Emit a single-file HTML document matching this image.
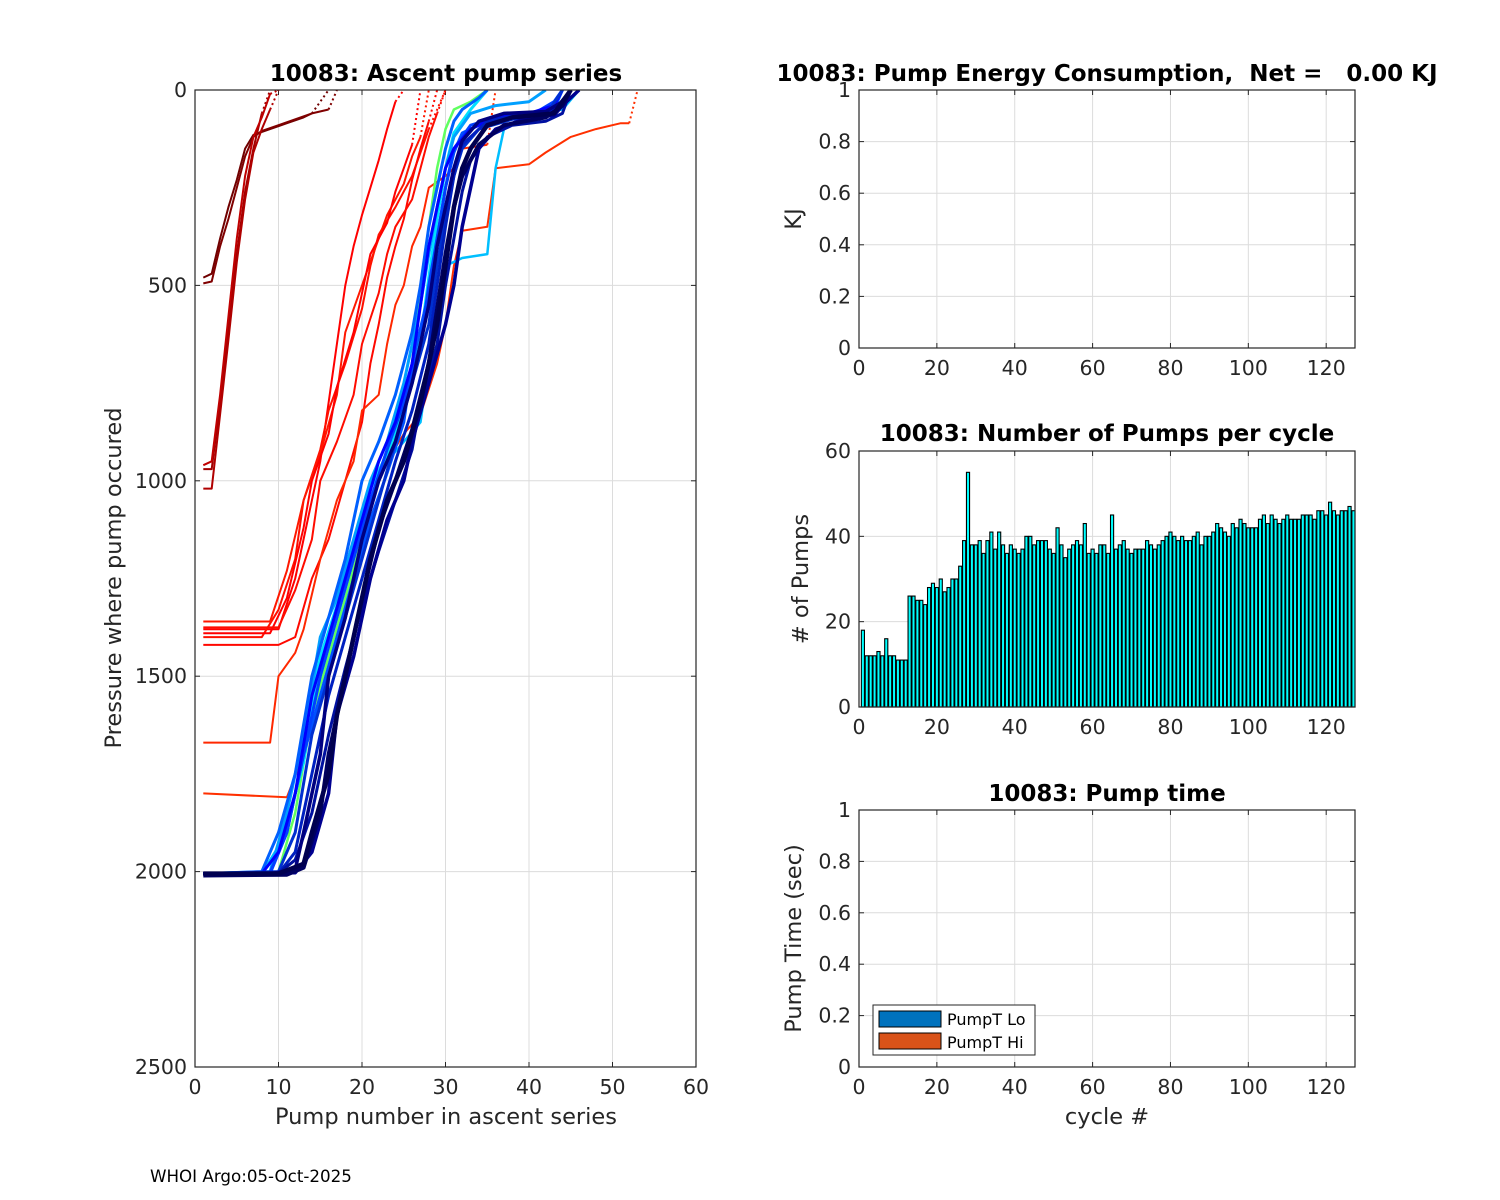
<!DOCTYPE html>
<html><head><meta charset="utf-8">
<style>
html,body{margin:0;padding:0;background:#fff;}
svg{display:block;font-family:"DejaVu Sans","Liberation Sans",sans-serif;}
.tk{font-size:20.5px;fill:#262626;}
.ttl{font-size:23px;font-weight:bold;fill:#000;}
.lab{font-size:22.5px;fill:#262626;}
.grid{stroke:#dcdcdc;stroke-width:1;}
.ax{fill:none;stroke:#262626;stroke-width:1.2;}
</style></head>
<body>
<svg id="chart" width="1500" height="1200" viewBox="0 0 1500 1200">
<rect width="1500" height="1200" fill="#fff"/>
<g id="left"></g>
<g id="energy"></g>
<g id="bars"></g>
<g id="ptime"></g>
<text x="150" y="1182" font-size="16.7" fill="#000">WHOI Argo:05-Oct-2025</text>
</svg>
<script>
const pumpCounts=[18,12,12,12,13,12,16,12,12,11,11,11,26,26,25,25,24,28,29,28,30,27,28,30,30,33,39,55,38,38,39,36,39,41,37,41,38,36,38,37,36,37,40,40,38,39,39,39,37,36,42,38,35,37,38,39,38,43,36,37,36,38,38,36,45,37,38,39,37,36,37,37,37,39,38,37,38,39,40,41,40,39,40,39,39,40,41,38,40,40,41,43,42,41,40,43,42,44,43,42,42,42,44,45,43,45,44,43,44,45,44,44,44,45,45,45,44,46,46,45,48,46,45,46,46,47,46];
const leftXTicks=[0,10,20,30,40,50,60];
const leftYTicks=[0,500,1000,1500,2000,2500];
const cycXTicks=[0,20,40,60,80,100,120];
const unitYTicks=[0,0.2,0.4,0.6,0.8,1];
const pumpYTicks=[0,20,40,60];
const seriesColors=["#700000","#800000","#a00000","#b00000","#c00000","#ff0000","#ff1000","#ff0800","#ff1800","#ff2800","#ff3000","#ff0000","#ff0c00",
"#00bfff","#60ff60","#00e0ff","#00a0ff","#0060ff","#0050ff","#0040ff","#0000ff","#0030d0","#0020c0","#0010a0","#000090","#000080","#000060","#000050"];
const seriesDotted=[1,1,1,1,1,1,1,1,1,1,1,1,1,0,0,0,0,0,0,0,0,0,0,0,0,0,0,0];
const seriesWidth=[2,2,2,2,2,2,2,2,2,2,2,2,2,2.5,2.5,3,3,3,3,3,3,3,3,3,3.5,3.5,4,4.5];
const seriesPoints=[
[[1,480],[2,470],[3,380],[4,300],[5,230],[6,150],[7,115],[9,100],[11,85],[13,70],[14,60],[16,0]],
[[1,495],[2,490],[3,400],[4,330],[5,250],[6,170],[7,120],[8,105],[10,90],[12,75],[14,60],[16,50],[17,0]],
[[1,970],[2,970],[3,800],[4,620],[5,420],[6,260],[7,150],[8,60],[9,0]],
[[1,1020],[2,1020],[3,830],[4,640],[5,440],[6,280],[7,160],[8,100],[9,50],[10,0]],
[[1,960],[2,950],[3,780],[4,580],[5,380],[6,220],[7,120],[8,70],[9,10],[10,0]],
[[1,1380],[10,1380],[12,1250],[14,1050],[15,950],[16,800],[17,650],[18,500],[19,400],[20,320],[21,250],[22,180],[23,100],[24,30],[25,0]],
[[1,1400],[8,1400],[10,1330],[12,1200],[13,1050],[15,920],[16,820],[18,700],[20,560],[21,450],[22,370],[24,300],[26,220],[27,160],[28,100],[30,0]],
[[1,1420],[10,1420],[12,1400],[14,1250],[16,1150],[18,1000],[20,850],[21,700],[22,600],[23,480],[24,400],[25,330],[26,230],[27,150],[28,80],[29,0]],
[[1,1360],[9,1360],[11,1230],[13,1050],[15,930],[17,780],[18,620],[20,500],[22,380],[23,320],[25,240],[26,170],[27,120],[28,0]],
[[1,1670],[9,1670],[10,1500],[12,1440],[13,1380],[15,1200],[17,1050],[19,950],[20,820],[22,780],[23,650],[24,550],[25,500],[26,400],[27,350],[28,250],[30,220],[31,200],[32,150],[35,140],[36,0]],
[[1,1800],[11,1810],[13,1700],[15,1500],[17,1350],[19,1200],[21,1050],[23,950],[25,880],[27,830],[29,700],[30,600],[31,450],[32,360],[35,350],[36,200],[40,190],[42,160],[45,120],[48,100],[51,85],[52,85],[53,0]],
[[1,1390],[9,1390],[11,1300],[13,1120],[14,1000],[16,880],[17,760],[19,620],[20,520],[21,420],[23,340],[24,260],[25,200],[26,140],[27,0]],
[[1,1375],[10,1375],[12,1280],[14,1150],[15,1000],[17,900],[19,780],[20,650],[22,520],[23,420],[24,350],[26,280],[27,200],[28,120],[29,60],[30,0]],
[[1,2005],[8,2005],[11,1900],[13,1700],[15,1400],[17,1300],[19,1200],[21,1050],[23,950],[25,900],[27,850],[28,700],[29,550],[30,450],[32,430],[35,420],[36,200],[37,100],[40,60],[44,50],[46,0]],
[[1,2005],[10,2000],[12,1850],[14,1600],[16,1450],[18,1300],[20,1150],[22,1000],[24,880],[26,700],[27,500],[28,350],[29,200],[30,100],[31,50],[33,30],[35,0]],
[[1,2005],[9,2003],[11,1880],[13,1720],[15,1450],[17,1320],[19,1180],[21,1020],[23,930],[25,820],[27,640],[28,480],[29,330],[30,200],[31,110],[33,50],[35,0]],
[[1,2005],[9,2000],[11,1850],[13,1650],[15,1400],[17,1300],[19,1150],[21,1000],[23,900],[25,750],[27,550],[28,420],[29,300],[30,200],[31,120],[33,60],[36,40],[40,30],[42,0]],
[[1,2005],[8,2000],[10,1900],[12,1750],[14,1500],[16,1350],[18,1200],[20,1000],[22,900],[24,780],[26,620],[27,500],[28,350],[29,250],[30,150],[31,80],[32,50],[34,20],[35,0]],
[[1,2005],[9,2002],[11,1900],[13,1700],[15,1550],[17,1400],[19,1250],[21,1100],[23,980],[25,850],[26,700],[28,520],[29,380],[30,250],[31,160],[32,110],[35,80],[39,65],[43,50],[44,0]],
[[1,2005],[9,2005],[11,1900],[13,1700],[15,1500],[17,1350],[19,1200],[21,1050],[23,920],[25,800],[27,650],[28,500],[29,380],[30,250],[31,150],[33,90],[37,65],[41,55],[43,30],[44,0]],
[[1,2005],[8,2005],[10,1950],[12,1800],[14,1550],[16,1400],[18,1250],[20,1100],[22,950],[24,850],[26,700],[27,550],[28,400],[29,300],[30,200],[31,150],[33,100],[36,70],[40,60],[43,40],[44,0]],
[[1,2005],[10,2000],[12,1900],[14,1650],[16,1500],[18,1350],[20,1200],[22,1050],[24,900],[26,750],[28,600],[29,450],[30,320],[31,220],[32,150],[34,100],[38,75],[42,65],[44,0]],
[[1,2005],[10,2005],[12,1950],[14,1750],[16,1550],[18,1400],[20,1250],[22,1100],[24,950],[26,820],[28,650],[29,500],[30,350],[31,220],[32,140],[35,80],[39,62],[43,52],[45,0]],
[[1,2005],[10,2004],[12,1970],[14,1850],[16,1650],[18,1480],[20,1320],[22,1180],[24,1050],[26,920],[27,800],[29,650],[30,500],[31,380],[32,260],[33,180],[35,120],[38,90],[42,80],[44,60],[45,0]],
[[1,2005],[12,2003],[14,1950],[16,1800],[17,1600],[19,1450],[21,1250],[23,1100],[25,1000],[26,900],[28,750],[30,600],[31,500],[32,350],[33,250],[34,150],[36,100],[40,70],[43,65],[44,40],[46,0]],
[[1,2005],[9,2005],[12,1995],[13,1900],[15,1700],[16,1500],[18,1350],[20,1150],[22,1000],[24,900],[26,750],[28,550],[29,400],[30,300],[31,200],[32,130],[34,80],[37,60],[42,55],[44,30],[45,0]],
[[1,2010],[11,2008],[13,1990],[15,1850],[16,1700],[18,1500],[20,1300],[22,1120],[24,1000],[26,870],[28,700],[29,560],[30,420],[31,300],[32,220],[34,140],[37,90],[42,70],[44,40],[45,0]],
[[1,2005],[10,2005],[13,1980],[14,1900],[16,1750],[17,1600],[19,1400],[21,1200],[23,1050],[25,950],[27,800],[29,600],[30,450],[31,300],[32,200],[33,150],[35,90],[38,70],[43,60],[45,0]]
];
const NS="http://www.w3.org/2000/svg";
function mk(parent,tag,attrs,text){const e=document.createElementNS(NS,tag);for(const k in attrs)e.setAttribute(k,attrs[k]);if(text!==undefined)e.textContent=text;parent.appendChild(e);return e;}
function axesBox(g,x0,y0,x1,y1,xTicks,yTicks,sx,sy,xfmt,yfmt){
  xTicks.forEach(v=>{const x=sx(v);
    const l=mk(g,'line',{x1:x,x2:x,y1:y0,y2:y1,class:'grid'});
    
    
    mk(g,'line',{x1:x,x2:x,y1:y1,y2:y1-5,stroke:'#262626'});
    mk(g,'line',{x1:x,x2:x,y1:y0,y2:y0+5,stroke:'#262626'});
    const t=mk(g,'text',{x:x,y:y1+27,'text-anchor':'middle',class:'tk'},xfmt(v));
    
    
  });
  yTicks.forEach(v=>{const y=sy(v);
    const l=mk(g,'line',{x1:x0,x2:x1,y1:y,y2:y,class:'grid'});
    
    
    mk(g,'line',{x1:x0,x2:x0+5,y1:y,y2:y,stroke:'#262626'});
    mk(g,'line',{x1:x1,x2:x1-5,y1:y,y2:y,stroke:'#262626'});
    const t=mk(g,'text',{x:x0-8,y:y+7,'text-anchor':'end',class:'tk'},yfmt(v));
    
    
  });
}
function frame(g,x0,y0,x1,y1){const r=mk(g,'rect',{x:x0,y:y0,width:x1-x0,height:y1-y0,class:'ax'});
  
  }

(function(){
 const g=document.getElementById('left');
 const X0=195,X1=696,Y0=90,Y1=1067;
 const sx=v=>X0+(v/60)*(X1-X0), sy=v=>Y0+(v/2500)*(Y1-Y0);
 axesBox(g,X0,Y0,X1,Y1,leftXTicks,leftYTicks,sx,sy,v=>String(v),v=>String(v));
 const d=mk(g,'defs',{});const cp=mk(d,'clipPath',{id:'lc'});mk(cp,'rect',{x:X0,y:Y0,width:X1-X0,height:Y1-Y0});
 const cg=mk(g,'g',{'clip-path':'url(#lc)'});
 seriesPoints.forEach((pts,i)=>{
   const n=seriesDotted[i]?pts.length-1:pts.length;
   const dd=pts.slice(0,n).map((p,j)=>(j?'L':'M')+sx(p[0]).toFixed(1)+' '+sy(p[1]).toFixed(1)).join(' ');
   const pth=mk(cg,'path',{d:dd,fill:'none',stroke:seriesColors[i],'stroke-width':seriesWidth[i],'stroke-linejoin':'round'});
   
   
   if(seriesDotted[i]){const a=pts[pts.length-2],b=pts[pts.length-1];
     const dl=mk(cg,'line',{x1:sx(a[0]),y1:sy(a[1]),x2:sx(b[0]),y2:sy(b[1]),stroke:seriesColors[i],'stroke-width':2,'stroke-dasharray':'2 3'});
     
     }
 });
 frame(g,X0,Y0,X1,Y1);
 mk(g,'text',{x:446,y:81,'text-anchor':'middle',class:'ttl',},'10083: Ascent pump series');
 mk(g,'text',{x:446,y:1124,'text-anchor':'middle',class:'lab',},'Pump number in ascent series');
 mk(g,'text',{x:0,y:0,'text-anchor':'middle',class:'lab',transform:'translate(121,578) rotate(-90)',},'Pressure where pump occured');
})();

const RX0=859,RX1=1355,XMAX=127.4;
const csx=v=>RX0+(v/XMAX)*(RX1-RX0);
function unitPanel(id,Y0,Y1,title,ylab,xlab){
 const g=document.getElementById(id);
 const sy=v=>Y1-v*(Y1-Y0);
 axesBox(g,RX0,Y0,RX1,Y1,cycXTicks,unitYTicks,csx,sy,v=>String(v),v=>String(v));
 frame(g,RX0,Y0,RX1,Y1);
 mk(g,'text',{x:1107,y:Y0-9,'text-anchor':'middle',class:'ttl',style:'white-space:pre',},title);
 mk(g,'text',{x:0,y:0,'text-anchor':'middle',class:'lab',transform:`translate(801,${(Y0+Y1)/2}) rotate(-90)`,},ylab);
 if(xlab)mk(g,'text',{x:1107,y:1124,'text-anchor':'middle',class:'lab',},xlab);
 return g;
}
unitPanel('energy',90,348,'10083: Pump Energy Consumption,  Net =   0.00 KJ','KJ');

(function(){
 const g=document.getElementById('bars');
 const Y0=451,Y1=707;const sy=v=>Y1-(v/60)*(Y1-Y0);
 axesBox(g,RX0,Y0,RX1,Y1,cycXTicks,pumpYTicks,csx,sy,v=>String(v),v=>String(v));
 const bw=(csx(1)-csx(0))*0.8;
 pumpCounts.forEach((v,i)=>{const c=i+1;
   const r=mk(g,'rect',{x:csx(c)-bw/2,y:sy(v),width:bw,height:sy(0)-sy(v),fill:'#00ffff',stroke:'#000','stroke-width':1.1});
   
   
 });
 frame(g,RX0,Y0,RX1,Y1);
 mk(g,'text',{x:1107,y:441,'text-anchor':'middle',class:'ttl',},'10083: Number of Pumps per cycle');
 mk(g,'text',{x:0,y:0,'text-anchor':'middle',class:'lab',transform:'translate(808,579) rotate(-90)',},'# of Pumps');
})();

(function(){
 const g=unitPanel('ptime',810,1067,'10083: Pump time','Pump Time (sec)','cycle #');
 const lg=mk(g,'g',{});
 mk(lg,'rect',{x:873,y:1005,width:162,height:50,fill:'#fff',stroke:'#262626','stroke-width':1});
 mk(lg,'rect',{x:879,y:1011,width:62,height:16,fill:'#0072bd',stroke:'#000',});
 mk(lg,'rect',{x:879,y:1033,width:62,height:16,fill:'#d95319',stroke:'#000',});
 mk(lg,'text',{x:947,y:1025,'font-size':16,fill:'#000',},'PumpT Lo');
 mk(lg,'text',{x:947,y:1048,'font-size':16,fill:'#000',},'PumpT Hi');
})();
</script>
</body></html>
